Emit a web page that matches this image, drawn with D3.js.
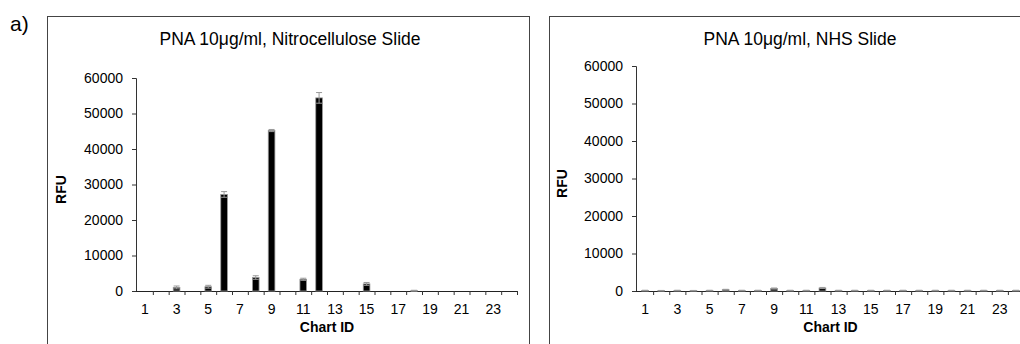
<!DOCTYPE html>
<html>
<head>
<meta charset="utf-8">
<script src="https://cdn.jsdelivr.net/npm/d3@7"></script>
<style>
  body { margin: 0; background: #fff; }
  svg { display: block; font-family: "Liberation Sans", Arial, sans-serif; }
</style>
</head>
<body>
<svg id="chart" width="1020" height="344"></svg>
<script>
// chart IDs 1..24
const chartIds = d3.range(1, 25)
const xLabels = chartIds.filter(d => d % 2 === 1)
const yTicks = [0, 10000, 20000, 30000, 40000, 50000, 60000]

// PNA 10ug/ml, nitrocellulose slide
const nitroValues = [0, 0, 1000, 0, 1200, 27200, 0, 3800, 45200, 0, 3300, 54400, 0, 0, 2000, 0, 0, 100, 0, 0, 0, 0, 0, 0]
const nitroErrors = [0, 0, 400, 0, 400, 800, 0, 500, 300, 0, 300, 1500, 0, 0, 400, 0, 0, 100, 0, 0, 0, 0, 0, 0]

// PNA 10ug/ml, NHS slide
const nhsValues = [150, 100, 150, 100, 150, 350, 150, 150, 650, 150, 150, 800, 150, 150, 150, 150, 150, 150, 150, 150, 150, 150, 150, 150]
const nhsErrors = [50, 50, 50, 50, 50, 100, 50, 50, 150, 50, 50, 150, 50, 50, 50, 50, 50, 50, 50, 50, 50, 50, 50, 50]

const svg = d3.select('#chart')

svg.append('text')
  .attr('x', 10).attr('y', 31)
  .attr('font-size', 21)
  .text('a)')

function drawPanel (opts) {
  const g = svg.append('g')

  g.append('rect')
    .attr('x', opts.box[0]).attr('y', opts.box[1])
    .attr('width', opts.box[2]).attr('height', opts.box[3])
    .attr('fill', 'none').attr('stroke', '#444').attr('stroke-width', 1)

  const x = d3.scaleBand().domain(chartIds).range(opts.xRange)
  const y = d3.scaleLinear().domain([0, 60000]).range(opts.yRange)

  // y axis
  const yAxis = g.append('g')
    .attr('transform', `translate(${opts.xRange[0] - 1},0)`)
    .call(d3.axisLeft(y).tickValues(yTicks).tickSize(4).tickSizeOuter(4).tickPadding(9).tickFormat(d3.format('d')))
  yAxis.selectAll('text').attr('font-size', 14).attr('fill', '#000').attr('font-family', null)
  yAxis.select('.domain').attr('stroke', '#333')
  yAxis.selectAll('.tick line').attr('stroke', '#333')

  // x axis line + ticks between categories
  const y0 = y(0)
  g.append('line')
    .attr('x1', opts.xRange[0] - 1).attr('x2', opts.xRange[1] + 1)
    .attr('y1', y0 + 0.5).attr('y2', y0 + 0.5)
    .attr('stroke', '#222')
  g.selectAll('.xtick')
    .data(chartIds.slice(1).concat([null]))
    .enter().append('line')
    .attr('x1', d => (d === null ? opts.xRange[1] : x(d)) + 0.5)
    .attr('x2', d => (d === null ? opts.xRange[1] : x(d)) + 0.5)
    .attr('y1', y0).attr('y2', y0 + 4)
    .attr('stroke', '#333')

  g.selectAll('.xlabel')
    .data(xLabels)
    .enter().append('text')
    .attr('x', d => x(d) + x.bandwidth() / 2)
    .attr('y', y0 + 23)
    .attr('text-anchor', 'middle')
    .attr('font-size', 14)
    .text(d => d)

  // bars
  const bw = x.bandwidth() * 0.42
  g.selectAll('.bar')
    .data(chartIds)
    .enter().append('rect')
    .attr('x', d => x(d) + (x.bandwidth() - bw) / 2)
    .attr('y', (d, i) => y(opts.values[i]))
    .attr('width', bw)
    .attr('height', (d, i) => y0 - y(opts.values[i]))
    .attr('fill', '#000')
    .attr('stroke', '#999')
    .attr('stroke-width', 0.8)

  // error bars
  const eb = g.selectAll('.err')
    .data(chartIds.filter((d, i) => opts.values[i] > 0))
    .enter().append('g')
  eb.append('line')
    .attr('x1', d => x(d) + x.bandwidth() / 2)
    .attr('x2', d => x(d) + x.bandwidth() / 2)
    .attr('y1', d => y(opts.values[d - 1] - opts.errors[d - 1]))
    .attr('y2', d => y(opts.values[d - 1] + opts.errors[d - 1]))
    .attr('stroke', '#999')
  eb.selectAll('.cap')
    .data(d => [[d, 1], [d, -1]])
    .enter().append('line')
    .attr('x1', d => x(d[0]) + x.bandwidth() / 2 - 3)
    .attr('x2', d => x(d[0]) + x.bandwidth() / 2 + 3)
    .attr('y1', d => y(opts.values[d[0] - 1] + d[1] * opts.errors[d[0] - 1]))
    .attr('y2', d => y(opts.values[d[0] - 1] + d[1] * opts.errors[d[0] - 1]))
    .attr('stroke', '#999')

  // titles
  g.append('text')
    .attr('x', opts.titleX).attr('y', 45)
    .attr('text-anchor', 'middle')
    .attr('font-size', 17.5)
    .text(opts.title)

  g.append('text')
    .attr('x', (opts.xRange[0] + opts.xRange[1]) / 2).attr('y', y0 + 41)
    .attr('text-anchor', 'middle')
    .attr('font-size', 14).attr('font-weight', 'bold')
    .text('Chart ID')

  g.append('text')
    .attr('transform', `translate(${opts.rfuX},${(opts.yRange[0] + opts.yRange[1]) / 2 + 5}) rotate(-90)`)
    .attr('text-anchor', 'middle')
    .attr('font-size', 14).attr('font-weight', 'bold')
    .text('RFU')
}

drawPanel({
  box: [47.5, 16.5, 482, 340],
  xRange: [137, 517],
  yRange: [291, 78],
  values: nitroValues,
  errors: nitroErrors,
  title: 'PNA 10\u03bcg/ml, Nitrocellulose Slide',
  titleX: 290,
  rfuX: 66
})

drawPanel({
  box: [549.5, 16.5, 480, 340],
  xRange: [637, 1024],
  yRange: [291, 66],
  values: nhsValues,
  errors: nhsErrors,
  title: 'PNA 10\u03bcg/ml, NHS Slide',
  titleX: 800,
  rfuX: 567
})
</script>
</body>
</html>
